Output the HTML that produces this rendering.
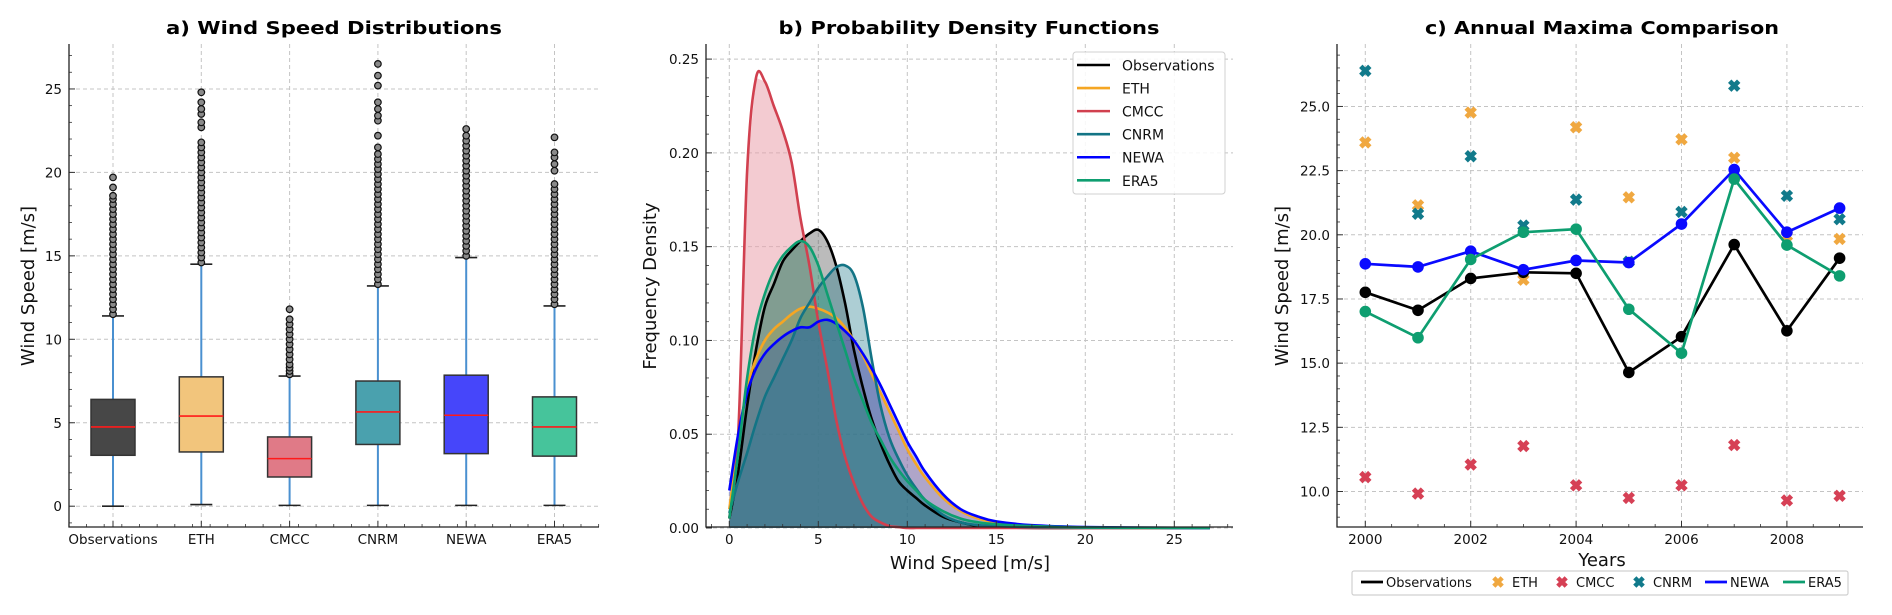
<!DOCTYPE html>
<html><head><meta charset="utf-8"><style>
html,body{margin:0;padding:0;background:#fff;width:1892px;height:615px;overflow:hidden;}
svg{display:block;font-family:"DejaVu Sans","Liberation Sans",sans-serif;}
</style></head><body>
<svg id="fig" width="1892" height="615" viewBox="0 0 1892 615" xmlns="http://www.w3.org/2000/svg"></svg>
<script>
// ---------- Panel a data ----------
const boxCats = ["Observations","ETH","CMCC","CNRM","NEWA","ERA5"];
const boxQ1 = [3.05,3.25,1.75,3.7,3.15,3.0];
const boxQ3 = [6.4,7.75,4.15,7.5,7.85,6.55];
const boxMed = [4.75,5.4,2.85,5.65,5.45,4.75];
const boxWhisLo = [0.0,0.1,0.05,0.05,0.05,0.05];
const boxWhisHi = [11.4,14.5,7.8,13.2,14.9,12.0];
const outObs = [11.5,11.8,12.1,12.4,12.7,13.0,13.3,13.6,13.9,14.2,14.5,14.8,15.1,15.4,15.7,16.0,16.3,16.6,16.9,17.2,17.5,17.8,18.1,18.4,18.6,19.1,19.7];
const outETH = [14.6,14.9,15.2,15.5,15.8,16.1,16.4,16.7,17.0,17.3,17.6,17.9,18.2,18.5,18.8,19.1,19.4,19.7,20.0,20.3,20.6,20.9,21.2,21.5,21.8,22.7,23.0,23.5,23.8,24.2,24.8];
const outCMCC = [7.9,8.1,8.3,8.5,8.8,9.1,9.4,9.7,10.0,10.3,10.6,10.9,11.2,11.8];
const outCNRM = [13.3,13.6,13.9,14.2,14.5,14.8,15.1,15.4,15.7,16.0,16.3,16.6,16.9,17.2,17.5,17.8,18.1,18.4,18.7,19.0,19.3,19.6,19.9,20.2,20.5,20.8,21.1,21.5,22.2,23.1,23.4,23.8,24.2,25.2,25.8,26.5];
const outNEWA = [15.0,15.3,15.6,15.9,16.2,16.5,16.8,17.1,17.4,17.7,18.0,18.3,18.6,18.9,19.2,19.5,19.8,20.1,20.4,20.7,21.0,21.3,21.6,21.9,22.2,22.6];
const outERA5 = [12.1,12.4,12.7,13.0,13.3,13.6,13.9,14.2,14.5,14.8,15.1,15.4,15.7,16.0,16.3,16.6,16.9,17.2,17.5,17.8,18.1,18.4,18.7,19.0,19.3,20.1,20.5,20.9,21.2,22.1];
const boxOut = [outObs,outETH,outCMCC,outCNRM,outNEWA,outERA5];
const boxFill = ["#474747","#f2c57c","#e07a87","#4aa1ae","#4646fa","#46c49b"];
const aYTicks = [0,5,10,15,20,25];

// ---------- Panel b data ----------
const pdfNames = ["Observations","ETH","CMCC","CNRM","NEWA","ERA5"];
const pdfX = [0,0.5,1,1.5,2,2.5,3,3.5,4,4.5,5,5.5,6,6.5,7,7.5,8,8.5,9,9.5,10,10.5,11,12,13,14,15,17,20,25,27];
const pdfObs = [0.005,0.03,0.065,0.095,0.118,0.13,0.142,0.148,0.153,0.157,0.159,0.153,0.14,0.12,0.095,0.075,0.058,0.045,0.034,0.025,0.02,0.016,0.012,0.006,0.003,0.001,0.0005,0,0,0,0];
const pdfETH = [0.01,0.045,0.075,0.09,0.1,0.106,0.11,0.114,0.117,0.118,0.117,0.115,0.112,0.107,0.1,0.092,0.082,0.072,0.062,0.052,0.042,0.034,0.027,0.016,0.009,0.005,0.003,0.001,0.0002,0,0];
const pdfCMCC = [0.005,0.05,0.19,0.24,0.238,0.225,0.212,0.195,0.165,0.14,0.11,0.085,0.058,0.038,0.024,0.013,0.006,0.003,0.001,0.0005,0,0,0,0,0,0,0,0,0,0,0];
const pdfCNRM = [0.008,0.025,0.04,0.056,0.07,0.08,0.09,0.1,0.112,0.12,0.128,0.134,0.139,0.14,0.135,0.118,0.09,0.065,0.048,0.037,0.028,0.021,0.015,0.007,0.003,0.0015,0.001,0.0005,0.0002,0,0];
const pdfNEWA = [0.02,0.05,0.072,0.085,0.093,0.098,0.102,0.105,0.107,0.107,0.11,0.111,0.109,0.105,0.1,0.093,0.085,0.076,0.066,0.056,0.046,0.038,0.03,0.018,0.01,0.006,0.0035,0.0015,0.0005,0.0001,0];
const pdfERA5 = [0.005,0.04,0.08,0.108,0.125,0.137,0.145,0.15,0.153,0.15,0.14,0.125,0.11,0.095,0.08,0.068,0.056,0.047,0.038,0.031,0.025,0.02,0.015,0.009,0.005,0.003,0.002,0.001,0.0003,0.0001,0];
const pdfSeries = [pdfObs,pdfETH,pdfCMCC,pdfCNRM,pdfNEWA,pdfERA5];
const pdfLine = ["#000000","#f5a623","#d1404f","#137485","#0000ff","#0e9e70"];
const pdfFill = ["#555555","#f5a623","#e9a0ac","#137485","#2030e0","#0e9e70"];
const pdfFillOp = [0.4,0.3,0.55,0.35,0.35,0.3];
const bYTicks = ["0.00","0.05","0.10","0.15","0.20","0.25"];
const bXTicks = [0,5,10,15,20,25];

// ---------- Panel c data ----------
const years = [2000,2001,2002,2003,2004,2005,2006,2007,2008,2009];
const maxObs = [17.76,17.06,18.3,18.54,18.5,14.64,16.03,19.62,16.26,19.09];
const maxNEWA = [18.87,18.75,19.36,18.64,19.0,18.92,20.42,22.54,20.1,21.04];
const maxERA5 = [17.01,15.99,19.04,20.1,20.22,17.1,15.39,22.17,19.6,18.4];
const maxETH = [23.6,21.15,24.76,18.25,24.19,21.46,23.72,23.0,19.96,19.84];
const maxCNRM = [26.39,20.82,23.06,20.36,21.37,18.95,20.89,25.81,21.52,20.61];
const maxCMCC = [10.56,9.92,11.05,11.77,10.24,9.75,10.24,11.81,9.65,9.83];
const cYTicks = ["10.0","12.5","15.0","17.5","20.0","22.5","25.0"];
const cXTicks = [2000,2002,2004,2006,2008];

const NS = "http://www.w3.org/2000/svg";
const svg = document.getElementById("fig");
function mk(tag, attrs, parent){
  const e = document.createElementNS(NS, tag);
  for (const k in attrs) e.setAttribute(k, attrs[k]);
  (parent||svg).appendChild(e);
  return e;
}
function txt(s, attrs, parent){
  const e = mk("text", attrs, parent);
  e.textContent = s;
  return e;
}

// ---------- layout ----------
const TOP = 44, BOT = 527;
const xa = i => 113 + 88.3*i;
const ya = v => 506.2 - 16.69*v;
const xb = v => 729.3 + 17.8*v;
const yb = v => 528 - 1875.6*v;
const xc = y => 1365.3 + 52.7*(y-2000);
const yc = v => 491.5 - 25.67*(v-10);
const TICKLBL_Y = 544;

const GRID = "#c4c4c4";
const TICKC = "#333";

// ================= Panel a =================
const ga = mk("g", {});


for (const t of aYTicks){
  const l = mk("line",{x1:69,x2:599,y1:ya(t),y2:ya(t),stroke:GRID,"stroke-dasharray":"4,3","stroke-width":1},ga);
  
  
}
boxCats.forEach((c,i)=>{
  const l = mk("line",{x1:xa(i),x2:xa(i),y1:TOP,y2:BOT,stroke:GRID,"stroke-dasharray":"4,3","stroke-width":1},ga);
  
  
});
boxCats.forEach((c,i)=>{
  const g = mk("g",{},ga);
  
  
  const cx = xa(i), hw = 22;
  const w1 = mk("line",{x1:cx,x2:cx,y1:ya(boxWhisLo[i]),y2:ya(boxQ1[i]),stroke:"#4a90d0","stroke-width":2},g);
  
  
  const w2 = mk("line",{x1:cx,x2:cx,y1:ya(boxQ3[i]),y2:ya(boxWhisHi[i]),stroke:"#4a90d0","stroke-width":2},g);
  
  
  const c1 = mk("line",{x1:cx-11,x2:cx+11,y1:ya(boxWhisLo[i]),y2:ya(boxWhisLo[i]),stroke:"#222","stroke-width":1.6},g);
  
  
  const c2 = mk("line",{x1:cx-11,x2:cx+11,y1:ya(boxWhisHi[i]),y2:ya(boxWhisHi[i]),stroke:"#222","stroke-width":1.6},g);
  
  
  const r = mk("rect",{x:cx-hw,y:ya(boxQ3[i]),width:2*hw,height:ya(boxQ1[i])-ya(boxQ3[i]),fill:boxFill[i],stroke:"#333","stroke-width":1.5},g);
  
  
  const m = mk("line",{x1:cx-hw,x2:cx+hw,y1:ya(boxMed[i]),y2:ya(boxMed[i]),stroke:"#ff1a1a","stroke-width":1.6},g);
  
  
  for (const v of boxOut[i]){
    const o = mk("circle",{cx:cx,cy:ya(v),r:3.3,fill:"#8a8a8a",stroke:"#111","stroke-width":1.2},g);
    
    
  }
  const tl = txt(c,{x:cx,y:TICKLBL_Y,"text-anchor":"middle","font-size":13.5,fill:"#111"},ga);
  
  
  const tk = mk("line",{x1:cx,x2:cx,y1:BOT,y2:BOT-6,stroke:TICKC,"stroke-width":1},ga);
  
  
});
for (let u=0.5; u<=6.51; u+=0.2){
  const tk = mk("line",{x1:xa(u-1),x2:xa(u-1),y1:BOT,y2:BOT-3,stroke:TICKC,"stroke-width":0.8},ga);
  
  
}
for (let v=-1; v<=27; v++){
  const major = v%5===0;
  const tk = mk("line",{x1:69,x2:69+(major?6:3),y1:ya(v),y2:ya(v),stroke:TICKC,"stroke-width":major?1:0.8},ga);
  
  
}
for (const t of aYTicks){
  const tl = txt(String(t),{x:62,y:ya(t)+5,"text-anchor":"end","font-size":13.5,fill:"#111"},ga);
  
  
}
const axA = mk("path",{d:"M69,"+TOP+" V"+BOT+" H599",fill:"none",stroke:"#222","stroke-width":1.3},ga);


const ylA = txt("Wind Speed [m/s]",{x:0,y:0,transform:"translate(34,286) rotate(-90)","text-anchor":"middle","font-size":18,fill:"#111"},ga);


const tA = txt("a) Wind Speed Distributions",{x:334,y:34,"text-anchor":"middle","font-size":18,"font-weight":"bold",fill:"#000",textLength:336,lengthAdjust:"spacingAndGlyphs"},ga);



// ================= Panel b =================
const gb = mk("g", {});


bYTicks.forEach(t=>{
  const v = parseFloat(t);
  const l = mk("line",{x1:706,x2:1233,y1:yb(v),y2:yb(v),stroke:GRID,"stroke-dasharray":"4,3","stroke-width":1},gb);
  
  
});
bXTicks.forEach(t=>{
  const l = mk("line",{x1:xb(t),x2:xb(t),y1:TOP,y2:BOT,stroke:GRID,"stroke-dasharray":"4,3","stroke-width":1},gb);
  
  
});
const fillOrder = [2,0,1,3,4,5];
for (const i of fillOrder){
  let d = "M"+xb(pdfX[0])+","+yb(0);
  pdfX.forEach((x,k)=>{ d += " L"+xb(x).toFixed(1)+","+yb(pdfSeries[i][k]).toFixed(1); });
  d += " L"+xb(pdfX[pdfX.length-1])+","+yb(0)+" Z";
  const p = mk("path",{d:d,fill:pdfFill[i],"fill-opacity":pdfFillOp[i],stroke:"none"},gb);
  
  
}
function smoothPath(xs, ys){
  let d = "M"+xs[0].toFixed(1)+","+ys[0].toFixed(1);
  for (let k=0;k<xs.length-1;k++){
    const x0=xs[Math.max(k-1,0)], y0=ys[Math.max(k-1,0)];
    const x1=xs[k], y1=ys[k], x2=xs[k+1], y2=ys[k+1];
    const x3=xs[Math.min(k+2,xs.length-1)], y3=ys[Math.min(k+2,xs.length-1)];
    const c1x=x1+(x2-x0)/6, c1y=y1+(y2-y0)/6, c2x=x2-(x3-x1)/6, c2y=y2-(y3-y1)/6;
    d += " C"+c1x.toFixed(1)+","+c1y.toFixed(1)+" "+c2x.toFixed(1)+","+c2y.toFixed(1)+" "+x2.toFixed(1)+","+y2.toFixed(1);
  }
  return d;
}
pdfSeries.forEach((s,i)=>{
  const p = mk("path",{d:smoothPath(pdfX.map(xb), s.map(yb)),fill:"none",stroke:pdfLine[i],"stroke-width":2.6,"stroke-linejoin":"round"},gb);
  
  
});
for (let v=0; v<=0.2551; v+=0.01){
  const major = Math.round(v*100)%5===0;
  const tk = mk("line",{x1:706,x2:706+(major?6:3),y1:yb(v),y2:yb(v),stroke:TICKC,"stroke-width":major?1:0.8},gb);
  
  
}
for (let v=-1; v<=28; v++){
  const major = v%5===0;
  const tk = mk("line",{x1:xb(v),x2:xb(v),y1:BOT,y2:BOT-(major?6:3),stroke:TICKC,"stroke-width":major?1:0.8},gb);
  
  
}
bYTicks.forEach(t=>{
  const tl = txt(t,{x:699,y:yb(parseFloat(t))+5,"text-anchor":"end","font-size":13.5,fill:"#111"},gb);
  
  
});
bXTicks.forEach(t=>{
  const tl = txt(String(t),{x:xb(t),y:TICKLBL_Y,"text-anchor":"middle","font-size":13.5,fill:"#111"},gb);
  
  
});
const axB = mk("path",{d:"M706,"+TOP+" V"+BOT+" H1233",fill:"none",stroke:"#222","stroke-width":1.3},gb);


const ylB = txt("Frequency Density",{x:0,y:0,transform:"translate(656,286) rotate(-90)","text-anchor":"middle","font-size":18,fill:"#111"},gb);


const xlB = txt("Wind Speed [m/s]",{x:970,y:569,"text-anchor":"middle","font-size":18,fill:"#111"},gb);


const tB = txt("b) Probability Density Functions",{x:969,y:34,"text-anchor":"middle","font-size":18,"font-weight":"bold",fill:"#000",textLength:381,lengthAdjust:"spacingAndGlyphs"},gb);


const lgB = mk("g",{},gb);


const lbox = mk("rect",{x:1073,y:52,width:152,height:142,rx:3,fill:"#fff","fill-opacity":0.85,stroke:"#d0d0d0","stroke-width":1},lgB);


pdfNames.forEach((n,i)=>{
  const y = 65 + i*23.06;
  const ll = mk("line",{x1:1077,x2:1110,y1:y,y2:y,stroke:pdfLine[i],"stroke-width":2.6},lgB);
  
  
  const lt = txt(n,{x:1122,y:y+5.5,"font-size":14,fill:"#111"},lgB);
  
  
});

// ================= Panel c =================
const gc = mk("g", {});


cYTicks.forEach(t=>{
  const v = parseFloat(t);
  const l = mk("line",{x1:1337,x2:1863,y1:yc(v),y2:yc(v),stroke:GRID,"stroke-dasharray":"4,3","stroke-width":1},gc);
  
  
});
cXTicks.forEach(t=>{
  const l = mk("line",{x1:xc(t),x2:xc(t),y1:TOP,y2:BOT,stroke:GRID,"stroke-dasharray":"4,3","stroke-width":1},gc);
  
  
});
const xMarkPath = (cx,cy,s) => "M"+(cx-s)+","+(cy-s)+" L"+(cx+s)+","+(cy+s)+" M"+(cx-s)+","+(cy+s)+" L"+(cx+s)+","+(cy-s);
function scatterX(vals, color, name){
  const g = mk("g",{},gc);
  
  
  years.forEach((yr,k)=>{
    const p = mk("path",{d:xMarkPath(xc(yr),yc(vals[k]),4.5),stroke:color,"stroke-width":4.8,"stroke-linecap":"butt"},g);
    
    
  });
}
function lineSeries(vals, color, name){
  const g = mk("g",{},gc);
  
  
  const pts = years.map((yr,k)=>xc(yr).toFixed(1)+","+yc(vals[k]).toFixed(1)).join(" ");
  const pl = mk("polyline",{points:pts,fill:"none",stroke:color,"stroke-width":2.7},g);
  
  
  years.forEach((yr,k)=>{
    const c = mk("circle",{cx:xc(yr),cy:yc(vals[k]),r:5.8,fill:color},g);
    
    
  });
}
scatterX(maxETH,"#f0a840","eth");
scatterX(maxCMCC,"#d64055","cmcc");
scatterX(maxCNRM,"#117a8b","cnrm");
lineSeries(maxObs,"#000000","observations");
lineSeries(maxNEWA,"#0a0aff","newa");
lineSeries(maxERA5,"#0e9e70","era5");
for (let v=9; v<=27.01; v+=0.5){
  const major = Math.round(v*10)%25===0;
  const tk = mk("line",{x1:1337,x2:1337+(major?6:3),y1:yc(v),y2:yc(v),stroke:TICKC,"stroke-width":major?1:0.8},gc);
  
  
}
for (let y=2000; y<=2009.01; y+=0.5){
  const major = Math.abs(y-Math.round(y))<0.01 && Math.round(y)%2===0;
  const tk = mk("line",{x1:xc(y),x2:xc(y),y1:BOT,y2:BOT-(major?6:3),stroke:TICKC,"stroke-width":major?1:0.8},gc);
  
  
}
cYTicks.forEach(t=>{
  const tl = txt(t,{x:1330,y:yc(parseFloat(t))+5,"text-anchor":"end","font-size":13.5,fill:"#111"},gc);
  
  
});
cXTicks.forEach(t=>{
  const tl = txt(String(t),{x:xc(t),y:TICKLBL_Y,"text-anchor":"middle","font-size":13.5,fill:"#111"},gc);
  
  
});
const axC = mk("path",{d:"M1337,"+TOP+" V"+BOT+" H1863",fill:"none",stroke:"#222","stroke-width":1.3},gc);


const ylC = txt("Wind Speed [m/s]",{x:0,y:0,transform:"translate(1288,286) rotate(-90)","text-anchor":"middle","font-size":18,fill:"#111"},gc);


const xlC = txt("Years",{x:1602,y:566,"text-anchor":"middle","font-size":18,fill:"#111"},gc);


const tC = txt("c) Annual Maxima Comparison",{x:1602,y:34,"text-anchor":"middle","font-size":18,"font-weight":"bold",fill:"#000",textLength:354,lengthAdjust:"spacingAndGlyphs"},gc);


const lgC = mk("g",{},gc);


const cbox = mk("rect",{x:1352,y:571,width:496,height:24,rx:2,fill:"#fff",stroke:"#d0d0d0","stroke-width":1.2},lgC);


const cLegNames = ["Observations","ETH","CMCC","CNRM","NEWA","ERA5"];
const cLegKind = ["line","x","x","x","line","line"];
const cLegColor = ["#000000","#f0a840","#d64055","#117a8b","#0a0aff","#0e9e70"];
const cLegSwX = [1361,1492,1556,1633,1705,1783];
cLegNames.forEach((n,i)=>{
  const sx = cLegSwX[i];
  let sw;
  if (cLegKind[i]==="line"){
    sw = mk("line",{x1:sx,x2:sx+22,y1:582,y2:582,stroke:cLegColor[i],"stroke-width":2.7},lgC);
  } else {
    sw = mk("path",{d:xMarkPath(sx+6,582,4.2),stroke:cLegColor[i],"stroke-width":4.5},lgC);
  }
  
  
  const tx = cLegKind[i]==="line" ? sx+25 : sx+20;
  const lt = txt(n,{x:tx,y:587,"font-size":13,fill:"#111"},lgC);
  
  
});
</script>
</body></html>
